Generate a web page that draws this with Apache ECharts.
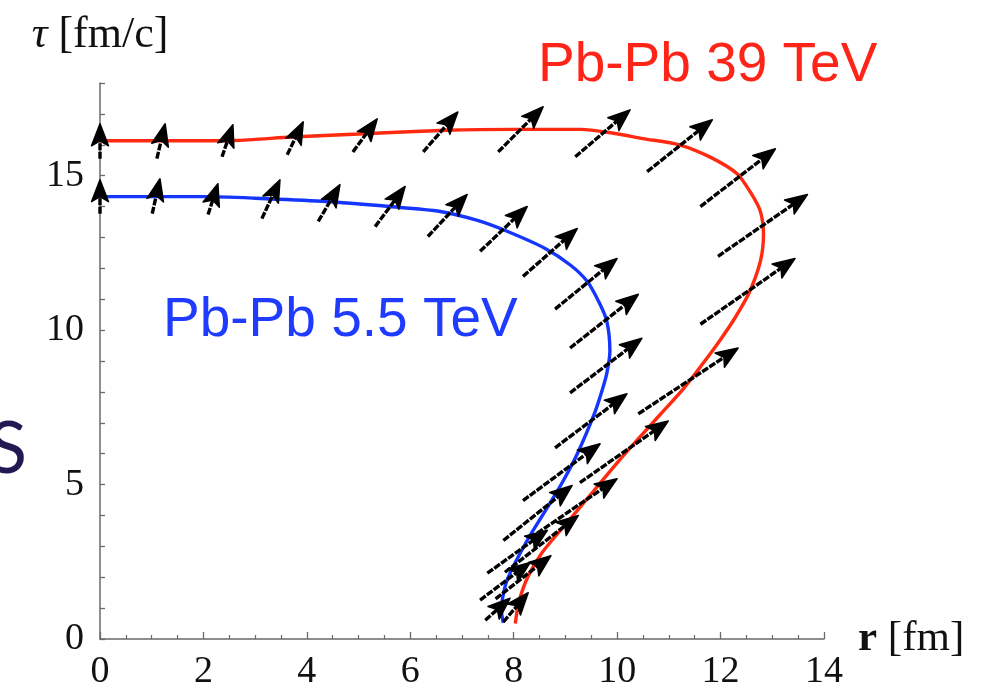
<!DOCTYPE html>
<html>
<head>
<meta charset="utf-8">
<script src="https://cdn.jsdelivr.net/npm/echarts@6/dist/echarts.min.js"></script>
<style>
html,body{margin:0;padding:0;background:#fff;}
#chart{width:989px;height:694px;}
</style>
</head>
<body>
<div id="chart"></div>
<script>
// Freeze-out curves (r [fm], tau [fm/c])
const redCurve = [[0,16.13],[1.5,16.13],[2.6,16.14],[3.7,16.25],[5,16.35],[6.7,16.47],[8,16.5],[9.3,16.5],[9.9,16.38],[10.5,16.2],[11.2,16.0],[11.8,15.6],[12.32,15.06],[12.6,14.4],[12.77,13.84],[12.83,13.1],[12.77,12.23],[12.55,11.2],[12.28,10.4],[11.98,9.65],[11.65,8.9],[11.28,8.1],[10.85,7.3],[10.42,6.5],[10.0,5.7],[9.55,4.8],[9.05,3.8],[8.55,2.8],[8.27,2.0],[8.1,1.2],[8.03,0.5]];
const blueCurve = [[0,14.32],[2,14.32],[3,14.27],[4.3,14.17],[5.6,14.0],[6.58,13.84],[7.3,13.55],[7.87,13.2],[8.6,12.65],[9.1,12.1],[9.42,11.58],[9.65,10.9],[9.8,10.29],[9.86,9.32],[9.8,8.6],[9.7,8.0],[9.56,7.3],[9.23,6.0],[8.95,5.1],[8.7,4.39],[8.26,3.19],[7.87,1.9],[7.76,0.94],[7.8,0.52]];
// Velocity arrows: [r_tail, tau_tail, r_tip, tau_tip]
const redArrows = [[0,15.55,0,16.68],[1.10,15.55,1.26,16.68],[2.36,15.61,2.57,16.65],[3.62,15.68,3.93,16.74],[4.89,15.77,5.36,16.84],[6.25,15.77,6.92,17.06],[7.70,15.77,8.57,17.23],[9.19,15.61,10.25,17.13],[10.58,15.13,11.84,16.81],[11.61,14.0,13.06,15.87],[11.95,12.39,13.68,14.39],[11.61,10.19,13.44,12.32],[10.41,7.29,12.34,9.42],[9.28,5.06,10.99,7.06],[8.45,3.42,10.0,5.19],[7.83,2.16,9.25,4.0],[7.65,1.3,8.72,2.7],[7.8,0.55,8.28,1.5]];
const blueArrows = [[0,13.77,0,14.87],[1.01,13.77,1.16,14.9],[2.09,13.74,2.28,14.74],[3.13,13.61,3.48,14.87],[4.22,13.52,4.64,14.71],[5.32,13.35,5.90,14.65],[6.34,13.03,7.10,14.39],[7.35,12.55,8.26,14.0],[8.18,11.74,9.23,13.29],[8.80,10.68,10.0,12.32],[9.09,9.42,10.41,11.16],[9.09,7.97,10.48,9.74],[8.80,6.19,10.19,7.94],[8.18,4.48,9.67,6.32],[7.80,3.19,9.13,4.97],[7.49,2.13,8.65,3.52],[7.35,1.26,8.32,2.48],[7.45,0.61,7.93,1.32]];
const yLabelValues = [0,5,10,15];
const xName = '{b|r} [fm]';
const yName = '{i|τ} [fm/c]';
const redLabel = 'Pb-Pb 39 TeV';
const blueLabel = 'Pb-Pb 5.5 TeV';

const chart = echarts.init(document.getElementById('chart'), null, {renderer:'canvas'});
const serif = '"Liberation Serif","DejaVu Serif",serif';
const sans = '"Liberation Sans",Arial,sans-serif';

function arrowItem(params, api) {
  const p0 = api.coord([api.value(0), api.value(1)]);
  const p1 = api.coord([api.value(2), api.value(3)]);
  const dx = p1[0]-p0[0], dy = p1[1]-p0[1];
  const L = Math.hypot(dx, dy) || 1;
  const ux = dx/L, uy = dy/L, nx = -uy, ny = ux;
  const hl = 22, hw = 8.5, notch = 5;
  const bx = p1[0]-ux*hl, by = p1[1]-uy*hl;
  const kx = p1[0]-ux*(hl-notch), ky = p1[1]-uy*(hl-notch);
  return {
    type: 'group',
    children: [
      {type:'line', shape:{x1:p0[0], y1:p0[1], x2:kx, y2:ky},
       style:{stroke:'#000', lineWidth:3.4, lineDash:[7,1.5]}},
      {type:'polygon', shape:{points:[[p1[0],p1[1]],[bx+nx*hw,by+ny*hw],[kx,ky],[bx-nx*hw,by-ny*hw]]},
       style:{fill:'#000', stroke:'#000', lineWidth:1.5, lineJoin:'round'}}
    ]
  };
}

chart.setOption({
  animation: false,
  backgroundColor: '#fff',
  grid: {left:100, right:165, top:83, bottom:55, containLabel:false},
  xAxis: {
    type:'value', min:0, max:14, interval:2,
    name: xName, nameLocation:'end', nameGap:34,
    nameTextStyle:{fontFamily:serif, fontSize:43, color:'#111', verticalAlign:'middle',
      rich:{b:{fontFamily:serif, fontSize:43, fontWeight:'bold', color:'#111'}}},
    axisLine:{onZero:false, lineStyle:{color:'#6a6a6a', width:1.5}},
    axisTick:{inside:true, length:7, lineStyle:{color:'#6a6a6a', width:1.3}},
    minorTick:{show:true, splitNumber:4, length:4, lineStyle:{color:'#6a6a6a', width:1.2}},
    axisLabel:{fontFamily:serif, fontSize:38, color:'#111', margin:14},
    splitLine:{show:false}
  },
  yAxis: {
    type:'value', min:0, max:18, interval:1,
    name: yName, nameLocation:'end', nameGap:26,
    nameTextStyle:{fontFamily:serif, fontSize:44, color:'#111', align:'center',
      rich:{i:{fontFamily:serif, fontSize:44, fontStyle:'italic', color:'#111'}}},
    axisLine:{onZero:false, lineStyle:{color:'#6a6a6a', width:1.5}},
    axisTick:{inside:true, length:5, lineStyle:{color:'#6a6a6a', width:1.3}},
    axisLabel:{fontFamily:serif, fontSize:38, color:'#111', margin:16,
      formatter: v => yLabelValues.indexOf(v) >= 0 ? String(v) : ''},
    splitLine:{show:false}
  },
  graphic: [
    {type:'text', left:538, top:38, style:{text:redLabel, font:'55px '+sans, fill:'#ff2418'}},
    {type:'text', left:163, top:293, style:{text:blueLabel, font:'55px '+sans, fill:'#1f3bff'}},
    {type:'text', right:962, top:414, style:{text:'S', font:'72px Lato,"Open Sans",sans-serif', fill:'#211a52'}}
  ],
  series: [
    {type:'line', data:redCurve, showSymbol:false, smooth:0.25, lineStyle:{color:'#ff2a10', width:3.4}, z:2},
    {type:'line', data:blueCurve, showSymbol:false, smooth:0.25, lineStyle:{color:'#1436ff', width:3.4}, z:2},
    {type:'custom', renderItem:arrowItem, data:redArrows, encode:{x:[0,2], y:[1,3]}, z:5},
    {type:'custom', renderItem:arrowItem, data:blueArrows, encode:{x:[0,2], y:[1,3]}, z:5}
  ]
});
</script>
</body>
</html>
